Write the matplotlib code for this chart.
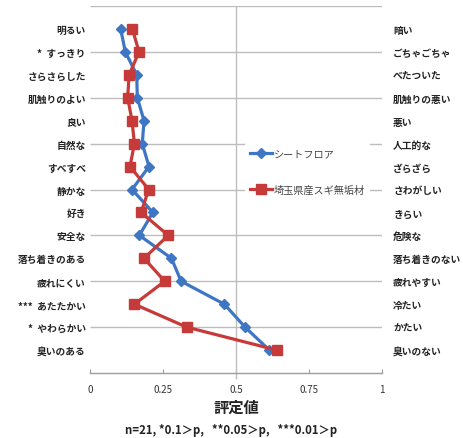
#!/usr/bin/env python3

"""Semantic differential profile of two flooring materials.
"""

import numpy as np
import matplotlib
matplotlib.use('Agg')
import matplotlib.pyplot as plt

plt.rcParams['font.family'] = ['Noto Sans CJK JP', 'DejaVu Sans']

# Adjective pairs (left = low score, right = high score).
left_labels = ['明るい', '*  すっきり', 'さらさらした', '肌触りのよい', '良い', '自然な',
               'すべすべ', '静かな', '好き', '安全な', '落ち着きのある', '疲れにくい',
               '***  あたたかい', '*  やわらかい', '臭いのある']
right_labels = ['暗い', 'ごちゃごちゃ', 'べたついた', '肌触りの悪い', '悪い', '人工的な',
                'ざらざら', 'さわがしい', 'きらい', '危険な', '落ち着きのない', '疲れやすい',
                '冷たい', 'かたい', '臭いのない']

# Mean ratings per item.
sheet_floor = [0.105, 0.121, 0.160, 0.162, 0.185, 0.179, 0.202, 0.144,
               0.215, 0.169, 0.279, 0.312, 0.460, 0.531, 0.614]
sugi_wood = [0.145, 0.168, 0.134, 0.129, 0.144, 0.152, 0.137, 0.201,
             0.175, 0.268, 0.185, 0.256, 0.152, 0.331, 0.639]

x_ticks = [0, 0.25, 0.5, 0.75, 1]
x_tick_labels = ['0', '0.25', '0.5', '0.75', '1']

BLUE = '#3F76C4'
RED = '#C63A3A'
GRID = '#BDBDBD'

pos = np.arange(len(left_labels))

fig = plt.figure(figsize=(4.63, 4.39), dpi=100)
ax = fig.add_axes([90 / 463, 1 - 374 / 439, 292 / 463, 367 / 439])

ax.set_xlim(0, 1)
ax.set_ylim(15, -1)

# Horizontal gridlines fall between every other item.
grid_y = list(range(-1, 15, 2))
ax.hlines(grid_y, 0, 1, colors=GRID, lw=1.0, zorder=2)
ax.vlines(0.5, -1, 15.25, colors=GRID, lw=1.0, zorder=2, clip_on=False)

ax.plot(sheet_floor, pos, color=BLUE, lw=2.3, marker='D', ms=5.5,
        label='シートフロア', zorder=3)
ax.plot(sugi_wood, pos, color=RED, lw=2.3, marker='s', ms=7,
        label='埼玉県産スギ無垢材', zorder=4)

ax.set_yticks(pos, left_labels)
ax.tick_params(axis='y', length=0, pad=3, labelsize=7, labelcolor='#222222')
for t in ax.get_yticklabels():
    t.set_fontweight('bold')

# Right-hand labels on a twin axis.
ax2 = ax.twinx()
ax2.set_ylim(15, -1)
ax2.set_yticks(pos, right_labels)
ax2.tick_params(axis='y', length=0, pad=8, labelsize=7, labelcolor='#222222')
for t in ax2.get_yticklabels():
    t.set_fontweight('bold')

for a in (ax, ax2):
    for side in ('top', 'left', 'right'):
        a.spines[side].set_visible(False)
    a.spines['bottom'].set_color('#A0A0A0')
    a.spines['bottom'].set_linewidth(0.9)

ax.set_xticks(x_ticks, x_tick_labels)
ax.tick_params(axis='x', direction='in', length=3, color='#A0A0A0', pad=8,
               labelsize=7, labelcolor='#333333')

ax.set_xlabel('評定値', fontsize=11, fontweight='bold', labelpad=3, color='#222222')
fig.text(231 / 463, 1 - 431 / 439, 'n=21, *0.1＞p,   **0.05＞p,   ***0.01＞p',
         ha='center', va='center', fontsize=8.2, fontweight='bold', color='#222222')

leg = ax.legend(loc='center left', bbox_to_anchor=(0.53, 0.549), fontsize=7.3,
                frameon=True, facecolor='white', edgecolor='none', framealpha=1,
                labelspacing=2.6, handlelength=2.2, handletextpad=0.2,
                borderpad=0.5, borderaxespad=0)
leg.set_zorder(5)
for t in leg.get_texts():
    t.set_color('#444444')

fig.savefig('out.png', dpi=100)
